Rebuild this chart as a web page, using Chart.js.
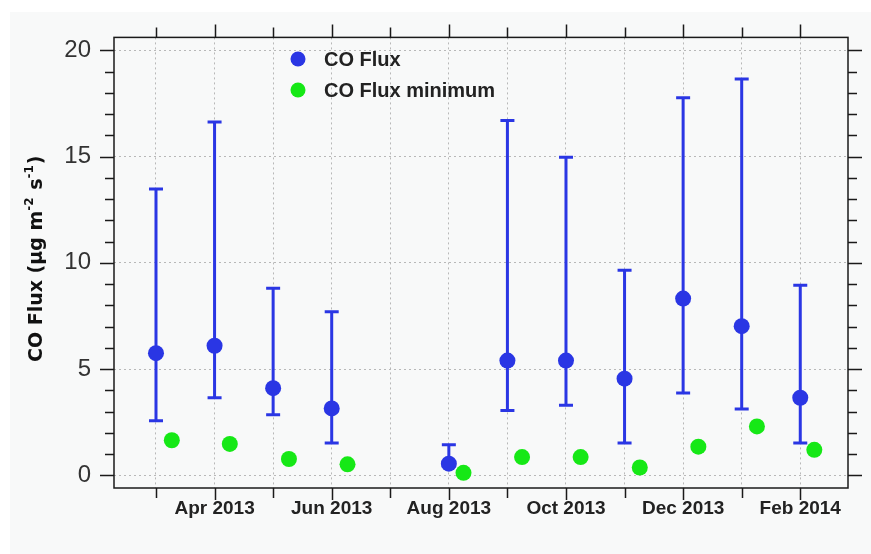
<!DOCTYPE html>
<html><head><meta charset="utf-8">
<script src="https://cdn.jsdelivr.net/npm/chart.js@4.4.0/dist/chart.umd.min.js"></script>
<style>html,body{margin:0;padding:0;background:#fff;}canvas{display:block;}</style>
</head><body>
<canvas id="c" width="871" height="554"></canvas>
<script>
// Month index: 0 = Mar 2013 ... 11 = Feb 2014
const tickLabels = ['', 'Apr 2013', '', 'Jun 2013', '', 'Aug 2013', '', 'Oct 2013', '', 'Dec 2013', '', 'Feb 2014'];
const fluxMonth = [0, 1, 2, 3, 5, 6, 7, 8, 9, 10, 11];
const fluxMean  = [5.75, 6.1, 4.1, 3.15, 0.55, 5.4, 5.4, 4.55, 8.32, 7.02, 3.65];
const fluxHigh  = [13.47, 16.63, 8.8, 7.7, 1.44, 16.7, 14.97, 9.65, 17.77, 18.65, 8.95];
const fluxLow   = [2.57, 3.65, 2.85, 1.52, 0.45, 3.05, 3.3, 1.52, 3.87, 3.12, 1.52];
const minMonth  = [0.27, 1.26, 2.27, 3.27, 5.25, 6.25, 7.25, 8.26, 9.26, 10.26, 11.24];
const fluxMin   = [1.65, 1.48, 0.77, 0.52, 0.12, 0.86, 0.86, 0.37, 1.35, 2.3, 1.2];

const BLUE = '#2a36e4';
const GREEN = '#16e816';
const SANS = '"Liberation Sans", Arial, sans-serif';

const fluxData = fluxMonth.map((m, i) => ({x: m, y: fluxMean[i], hi: fluxHigh[i], lo: fluxLow[i]}));
const minData = minMonth.map((m, i) => ({x: m, y: fluxMin[i]}));

const bgPlugin = {
  id: 'bg',
  beforeDraw(chart) {
    const ctx = chart.ctx;
    ctx.save();
    ctx.fillStyle = '#ffffff';
    ctx.fillRect(0, 0, chart.width, chart.height);
    ctx.fillStyle = '#f8f9f9';
    ctx.fillRect(10, 12, chart.width - 10, chart.height - 12);
    ctx.restore();
  }
};

const errPlugin = {
  id: 'errbars',
  beforeDatasetsDraw(chart) {
    const ctx = chart.ctx, xs = chart.scales.x, ys = chart.scales.y;
    ctx.save();
    ctx.strokeStyle = BLUE;
    ctx.lineWidth = 3;
    chart.data.datasets[0].data.forEach(d => {
      const px = xs.getPixelForValue(d.x);
      const ph = ys.getPixelForValue(d.hi), pl = ys.getPixelForValue(d.lo);
      ctx.beginPath();
      ctx.moveTo(px, ph); ctx.lineTo(px, pl);
      ctx.moveTo(px - 7, ph); ctx.lineTo(px + 7, ph);
      ctx.moveTo(px - 7, pl); ctx.lineTo(px + 7, pl);
      ctx.stroke();
    });
    ctx.restore();
  }
};

const framePlugin = {
  id: 'frame',
  afterDraw(chart) {
    const ctx = chart.ctx, a = chart.chartArea, xs = chart.scales.x, ys = chart.scales.y;
    ctx.save();
    ctx.strokeStyle = '#1a1a1a';
    ctx.lineWidth = 1.5;
    ctx.strokeRect(a.left, a.top, a.right - a.left, a.bottom - a.top);
    ctx.beginPath();
    for (let v = 0; v <= 20; v++) {
      const py = Math.round(ys.getPixelForValue(v)) + 0.5;
      const len = v % 5 === 0 ? 14 : 9;
      ctx.moveTo(a.left, py); ctx.lineTo(a.left - len, py);
      ctx.moveTo(a.right, py); ctx.lineTo(a.right + len, py);
    }
    for (let m = 0; m < tickLabels.length; m++) {
      const px = Math.round(xs.getPixelForValue(m)) + 0.5;
      const lenB = tickLabels[m] ? 12 : 10;
      const lenT = tickLabels[m] ? 13 : 10;
      ctx.moveTo(px, a.bottom); ctx.lineTo(px, a.bottom + lenB);
      ctx.moveTo(px, a.top); ctx.lineTo(px, a.top - lenT);
    }
    ctx.stroke();

    // legend
    const items = chart.data.datasets;
    const ly = [59, 90];
    items.forEach((ds, i) => {
      ctx.fillStyle = ds.backgroundColor;
      ctx.beginPath();
      ctx.arc(298, ly[i], 7.5, 0, Math.PI * 2);
      ctx.fill();
      ctx.fillStyle = '#222';
      ctx.font = 'bold 20px ' + SANS;
      ctx.textBaseline = 'middle';
      ctx.textAlign = 'left';
      ctx.fillText(ds.label, 324, ly[i] + 1);
    });

    // y-axis title with superscripts
    ctx.translate(42, 362);
    ctx.rotate(-Math.PI / 2);
    ctx.fillStyle = '#111';
    ctx.textAlign = 'left';
    ctx.textBaseline = 'alphabetic';
    const big = 'bold 19px "DejaVu Sans", sans-serif';
    const small = 'bold 12px "DejaVu Sans", sans-serif';
    const parts = [['CO Flux (\u00b5g m', big, 0], ['-2', small, -9], [' s', big, 0], ['-1', small, -9], [')', big, 0]];
    let x = 0;
    parts.forEach(([t, f, dy]) => {
      ctx.font = f;
      ctx.fillText(t, x, dy);
      x += ctx.measureText(t).width + (dy ? 1 : 0);
    });
    ctx.restore();
  }
};

new Chart(document.getElementById('c'), {
  type: 'scatter',
  data: {
    datasets: [
      {label: 'CO Flux', data: fluxData, backgroundColor: BLUE, borderWidth: 0, pointRadius: 8, pointHoverRadius: 8},
      {label: 'CO Flux minimum', data: minData, backgroundColor: GREEN, borderWidth: 0, pointRadius: 8, pointHoverRadius: 8}
    ]
  },
  options: {
    responsive: false,
    animation: false,
    devicePixelRatio: 1,
    layout: {padding: {top: 26, right: 23, left: 0, bottom: 0}},
    plugins: {legend: {display: false}, tooltip: {enabled: false}},
    scales: {
      x: {
        type: 'linear', position: 'bottom', min: -0.717, max: 11.815,
        afterFit(s) { s.height = 66; },
        grid: {color: '#b8b8b8', lineWidth: 1, drawTicks: false},
        border: {display: false, dash: [2, 3]},
        ticks: {
          stepSize: 1, includeBounds: false, autoSkip: false, maxRotation: 0, minRotation: 0,
          padding: 9, color: '#222', font: {family: SANS, size: 19, weight: 'bold'},
          callback(v) { const r = Math.round(v); return Math.abs(v - r) < 1e-6 ? (tickLabels[r] || '') : ''; }
        }
      },
      y: {
        type: 'linear', min: -0.596, max: 20.61,
        afterFit(s) { s.width = 114; },
        grid: {color: '#b8b8b8', lineWidth: 1, drawTicks: false},
        border: {display: false, dash: [2, 3]},
        ticks: {stepSize: 5, includeBounds: false, padding: 23, color: '#333', font: {family: SANS, size: 24}}
      }
    }
  },
  plugins: [bgPlugin, errPlugin, framePlugin]
});
</script>
</body></html>
